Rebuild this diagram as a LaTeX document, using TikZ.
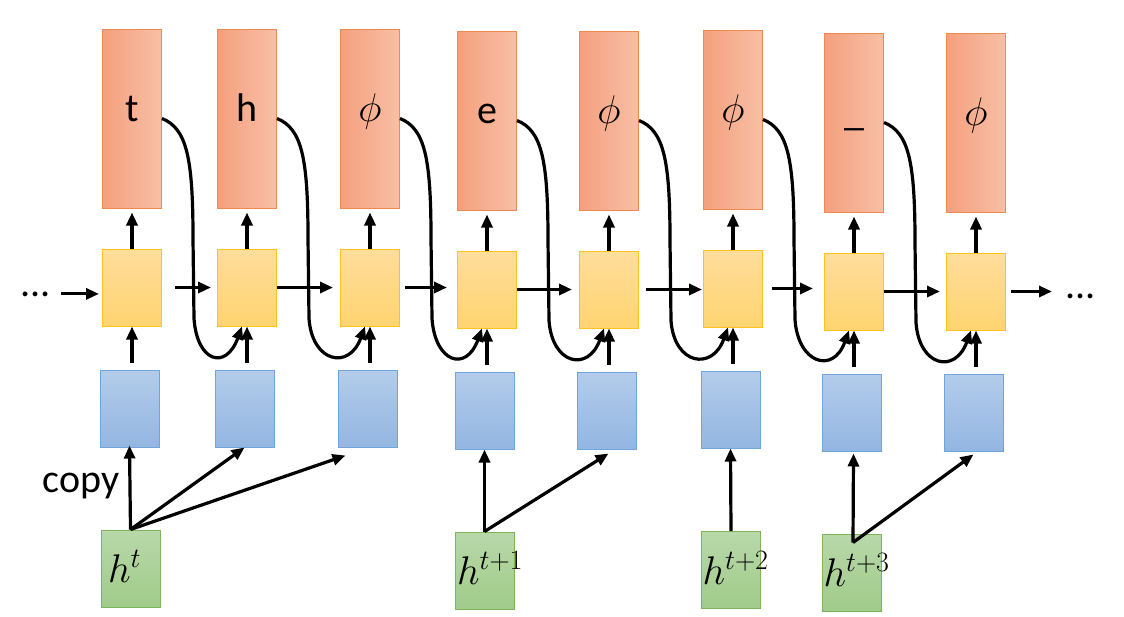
\RequirePackage{fix-cm}
\documentclass[tikz,border=0pt]{standalone}
\usepackage[no-math]{fontspec}
\setmainfont{Carlito}
\usetikzlibrary{arrows.meta, calc}

\definecolor{outL}{HTML}{F4A07E}
\definecolor{outR}{HTML}{F8BFA5}
\definecolor{outEdge}{HTML}{EE8A4F}
\definecolor{cellT}{HTML}{FFDD9C}
\definecolor{cellB}{HTML}{FFD470}
\definecolor{cellEdge}{HTML}{FFC31F}
\definecolor{inT}{HTML}{B3CCEA}
\definecolor{inB}{HTML}{93B6E2}
\definecolor{inEdge}{HTML}{6FA5DA}
\definecolor{hT}{HTML}{B8D8A9}
\definecolor{hB}{HTML}{A0CB8A}
\definecolor{hEdge}{HTML}{7DB55A}

\begin{document}
\begin{tikzpicture}[
  x=1pt, y=-1pt,
  >={Triangle[length=13pt,width=11pt]}, line width=3.2pt,
  font=\fontsize{40}{48}\selectfont,
  outbox/.style={draw=outEdge, line width=1pt, left color=outL, right color=outR, minimum width=59pt, minimum height=179pt, inner sep=0pt, text height=0.72em, text depth=0.05em},
  cell/.style={draw=cellEdge, line width=1pt, top color=cellT, bottom color=cellB, minimum width=59pt, minimum height=77pt, inner sep=0pt},
  inbox/.style={draw=inEdge, line width=1pt, top color=inT, bottom color=inB, minimum width=59pt, minimum height=77pt, inner sep=0pt},
  hbox/.style={draw=hEdge, line width=1pt, top color=hT, bottom color=hB, minimum width=59pt, minimum height=77pt, inner sep=0pt},
  txt/.style={anchor=base west, inner sep=0pt}
]
  \useasboundingbox (0,0) rectangle (1124,616);

  % columns: output, cell, input
  \foreach \n/\cx/\dy/\lab in {1/132/0/t, 2/247/0/h, 3/370/0/$\phi$, 4/487/2/e, 5/609/2/$\phi$, 6/733/1/$\phi$, 7/854/4/\_, 8/976/4/$\phi$} {
    \node[outbox] (o\n) at (\cx,118.5+\dy) {\lab};
    \node[cell] (y\n) at (\cx,287.5+\dy) {};
    \node[inbox] (b\n) at (\cx-2.5,408.5+\dy) {};
    \draw[->, shorten >=4pt] (y\n.north) -- (o\n.south);
    \draw[->, shorten <=7pt] (b\n.north -| y\n.south) -- (y\n.south);
  }

  % recurrent links
  \node[txt] (dl) at (19,296) {...};
  \node[txt] (dr) at (1064,298) {...};
  \draw[->, shorten <=9pt, shorten >=3pt] (dl.east) -- (dl.east -| y1.west);
  \foreach \i/\j/\a/\b in {1/2/13/6, 2/3/0/7, 3/4/5/10, 4/5/0/7, 5/6/7/1, 6/7/9/11, 7/8/0/6}
    \draw[->, shorten <=\a pt, shorten >=\b pt] (y\i.east) -- (y\j.west |- y\i.east);
  \draw[->, shorten <=5pt, shorten >=12pt] (y8.east) -- (dr.west |- y8.east);

  % feed back previous output
  \foreach \i/\j in {1/2, 2/3, 3/4, 4/5, 5/6, 6/7, 7/8}
    \draw[->] (o\i.east) .. controls +(25,10) and +(0,-80) .. ++(31,120) -- ++(1,80)
      .. controls +(3,44) and +(-16,44) .. ([xshift=-5pt]y\j.south);

  % hidden states
  \node[hbox] (g1) at (130.5,568.5) {};
  \node[hbox] (g2) at (484.5,570.5) {};
  \node[hbox] (g3) at (731,570) {};
  \node[hbox] (g4) at (852,572.5) {};
  \node[txt] (l1) at ($(g1.south west)+(6,-25)$) {$h^t$};
  \node[txt] (l2) at ($(g2.south west)+(1,-25)$) {$h^{t+1}$};
  \node[txt] (l3) at ($(g3.south west)+(0,-25)$) {$h^{t+2}$};
  \node[txt] (l4) at ($(g4.south west)+(0,-25)$) {$h^{t+3}$};
  \node[txt] (cp) at (41,492) {copy};

  \coordinate (fork) at ($(g4.north)+(1,9)$);
  \draw[->, shorten >=-2pt] (g1.north) -- (b1.south);
  \draw[->] (g1.north) -- (b2.south);
  \draw[->] (g1.north) -- ($(b3.south west)+(8,8)$);
  \draw[->] (g2.north) -- (b4.south);
  \draw[->] (g2.north) -- ($(b5.south)+(2,4)$);
  \draw[->] (g3.north) -- (b6.south);
  \draw[->] (fork) -- ($(b7.south)+(2,2)$);
  \draw[->] (fork) -- ($(b8.south)+(0,3)$);
\end{tikzpicture}
\end{document}
